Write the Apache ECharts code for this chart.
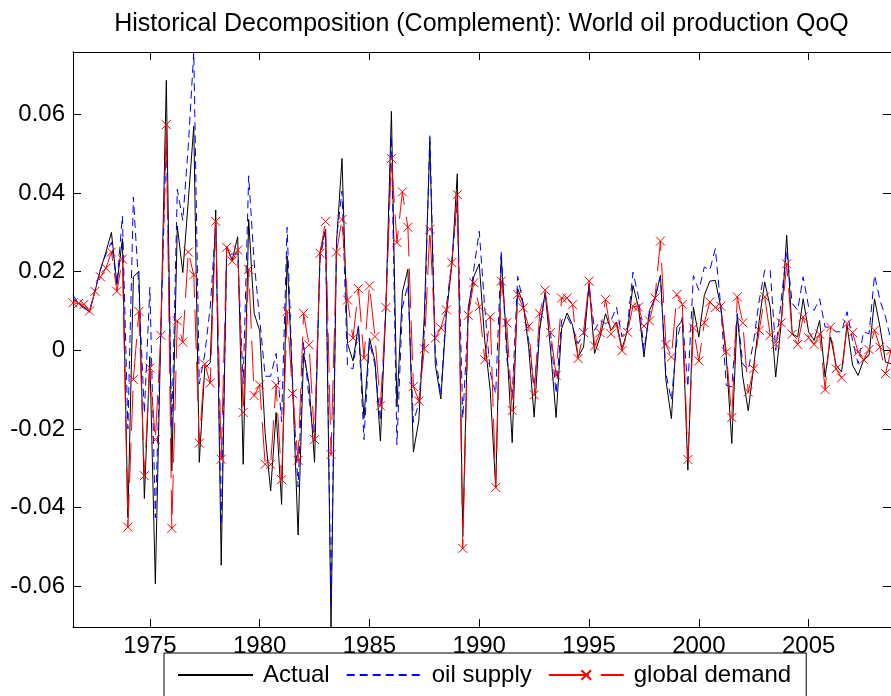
<!DOCTYPE html>
<html>
<head>
<meta charset="utf-8">
<title>Historical Decomposition (Complement)</title>
<script src="https://cdn.jsdelivr.net/npm/echarts@6/dist/echarts.min.js"></script>
<style>
    html, body {
        margin: 0;
        padding: 0;
        background: #fff;
    }
    #chart {
        width: 891px;
        height: 696px;
    }
</style>
</head>
<body>
<div id="chart"></div>
<script>
// quarterly data, 1971Q3 .. 2008Q4
var startYear = 1971.5;

var actual = [
    0.0130, 0.0120, 0.0110, 0.0097, 0.0150, 0.0205, 0.0250, 0.0300, 0.0167, 0.0284,
    -0.0426, 0.0187, 0.0201, -0.0377, -0.0016, -0.0594, 0.0050, 0.0687, -0.0307, 0.0316,
    0.0198, 0.0380, 0.0570, -0.0285, -0.0045, -0.0032, 0.0357, -0.0547, 0.0264, 0.0230,
    0.0289, -0.0290, 0.0333, 0.0094, 0.0050, -0.0212, -0.0358, -0.0158, -0.0392, 0.0240,
    -0.0086, -0.0470, -0.0008, -0.0086, -0.0285, 0.0250, 0.0308, -0.0704, 0.0274, 0.0488,
    0.0017, -0.0027, 0.0062, -0.0173, 0.0031, -0.0027, -0.0231, 0.0114, 0.0608, -0.0144,
    0.0148, 0.0206, -0.0259, -0.0178, 0.0089, 0.0530, -0.0037, -0.0124, 0.0089, 0.0216,
    0.0449, -0.0474, 0.0109, 0.0187, 0.0220, 0.0025, -0.0102, -0.0350, 0.0237, 0.0017,
    -0.0235, 0.0157, 0.0119, 0.0008, -0.0170, 0.0051, 0.0148, 0.0000, -0.0171, 0.0055,
    0.0095, 0.0064, -0.0017, 0.0008, 0.0170, -0.0008, 0.0034, 0.0093, 0.0051, 0.0072,
    0.0004, 0.0050, 0.0165, 0.0110, -0.0017, 0.0102, 0.0130, 0.0191, -0.0076, -0.0174,
    0.0059, 0.0076, -0.0305, 0.0110, 0.0034, 0.0140, 0.0176, 0.0178, 0.0110, -0.0017,
    -0.0237, 0.0093, -0.0068, -0.0154, -0.0040, 0.0076, 0.0174, 0.0110, -0.0068, 0.0068,
    0.0293, 0.0042, 0.0034, 0.0131, 0.0047, 0.0025, 0.0076, -0.0068, 0.0034, -0.0038,
    -0.0055, 0.0064, -0.0038, -0.0064, -0.0025, -0.0013, 0.0131, 0.0059, -0.0030, -0.0034
];

var oilSupply = [
    0.0140, 0.0120, 0.0107, 0.0099, 0.0153, 0.0206, 0.0245, 0.0275, 0.0167, 0.0342,
    -0.0200, 0.0390, 0.0155, -0.0160, 0.0160, -0.0426, 0.0050, 0.0537, -0.0200, 0.0410,
    0.0330, 0.0520, 0.0759, -0.0086, -0.0010, 0.0110, 0.0323, -0.0445, 0.0245, 0.0245,
    0.0245, -0.0085, 0.0444, 0.0224, 0.0080, -0.0066, -0.0066, -0.0008, -0.0182, 0.0313,
    -0.0086, -0.0348, 0.0021, -0.0124, -0.0231, 0.0235, 0.0303, -0.0650, 0.0285, 0.0405,
    -0.0042, -0.0047, 0.0060, -0.0227, 0.0021, -0.0037, -0.0180, 0.0109, 0.0546, -0.0240,
    0.0109, 0.0167, -0.0183, -0.0134, 0.0050, 0.0551, -0.0008, -0.0115, 0.0109, 0.0225,
    0.0380, -0.0173, 0.0089, 0.0206, 0.0303, 0.0109, -0.0056, -0.0110, 0.0254, -0.0017,
    -0.0119, 0.0188, 0.0119, 0.0025, -0.0093, 0.0059, 0.0144, 0.0042, -0.0110, 0.0076,
    0.0085, 0.0059, 0.0017, 0.0042, 0.0161, 0.0051, 0.0076, 0.0068, 0.0076, 0.0110,
    0.0034, 0.0059, 0.0199, 0.0136, 0.0000, 0.0093, 0.0136, 0.0187, -0.0059, -0.0127,
    0.0025, 0.0085, -0.0093, 0.0190, 0.0153, 0.0212, 0.0204, 0.0259, 0.0110, -0.0089,
    -0.0093, 0.0093, -0.0034, -0.0051, 0.0025, 0.0127, 0.0204, 0.0204, 0.0000, 0.0127,
    0.0254, 0.0119, 0.0102, 0.0187, 0.0110, 0.0102, 0.0131, 0.0059, 0.0059, 0.0047,
    0.0047, 0.0098, 0.0025, -0.0034, 0.0047, 0.0042, 0.0191, 0.0127, 0.0085, 0.0025
];

var globalDemand = [
    0.0121, 0.0119, 0.0117, 0.0100, 0.0150, 0.0187, 0.0209, 0.0250, 0.0150, 0.0232,
    -0.0450, -0.0074, 0.0099, -0.0319, -0.0045, -0.0227, 0.0038, 0.0574, -0.0453, 0.0075,
    0.0021, 0.0250, 0.0192, -0.0236, -0.0035, -0.0083, 0.0328, -0.0277, 0.0262, 0.0227,
    0.0255, -0.0158, 0.0206, -0.0115, -0.0088, -0.0290, -0.0290, -0.0088, -0.0329, 0.0099,
    -0.0110, -0.0280, 0.0094, 0.0014, -0.0227, 0.0247, 0.0328, -0.0265, 0.0250, 0.0333,
    0.0128, 0.0031, 0.0157, -0.0019, 0.0164, 0.0035, -0.0141, 0.0109, 0.0488, 0.0274,
    0.0403, 0.0313, -0.0092, -0.0129, 0.0004, 0.0308, 0.0031, 0.0057, 0.0103, 0.0223,
    0.0396, -0.0504, 0.0089, 0.0172, 0.0111, -0.0024, 0.0085, -0.0349, 0.0176, 0.0070,
    -0.0153, 0.0142, 0.0108, 0.0061, -0.0113, 0.0093, 0.0153, 0.0045, -0.0064, 0.0133,
    0.0133, 0.0116, -0.0021, 0.0045, 0.0176, 0.0011, 0.0045, 0.0129, 0.0042, 0.0064,
    -0.0001, 0.0046, 0.0112, 0.0110, 0.0062, 0.0075, 0.0133, 0.0278, 0.0015, -0.0017,
    0.0142, 0.0117, -0.0278, 0.0057, -0.0027, 0.0070, 0.0123, 0.0109, 0.0112, -0.0004,
    -0.0171, 0.0136, 0.0070, -0.0106, -0.0047, 0.0051, 0.0136, 0.0038, 0.0015, 0.0070,
    0.0220, 0.0041, 0.0015, 0.0085, 0.0032, 0.0015, 0.0041, -0.0100, 0.0059, -0.0047,
    -0.0070, 0.0068, 0.0045, -0.0004, -0.0024, 0.0002, 0.0051, 0.0008, -0.0059, 0.0000
];

var xTicks = [1975, 1980, 1985, 1990, 1995, 2000, 2005];
var yTicks = [-0.06, -0.04, -0.02, 0, 0.02, 0.04, 0.06];

var FONT = '"Liberation Sans", Arial, Helvetica, sans-serif';

// quarter dates (x values)
var dates = actual.map(function (v, i) { return startYear + i / 4; });

function pairs(values) {
    return values.map(function (v, i) { return [dates[i], v]; });
}

// axis tight, like matlab
var allValues = actual.concat(oilSupply, globalDemand);
var xMin = dates[0];
var xMax = dates[dates.length - 1];
var yMin = Math.min.apply(null, allValues);
var yMax = Math.max.apply(null, allValues);

function yLabel(v) {
    if (Math.abs(v) < 1e-9) return '0';
    return v.toFixed(2);
}

var black = { color: '#000', width: 1 };
var noSymbol = { color: 'rgba(0,0,0,0)', borderWidth: 0 };

var option = {
    animation: false,
    backgroundColor: '#fff',
    title: {
        text: 'Historical Decomposition (Complement): World oil production QoQ',
        left: 481.5,
        textAlign: 'center',
        top: 12,
        padding: 0,
        textStyle: {
            fontFamily: FONT,
            fontSize: 25,
            fontWeight: 'normal',
            color: '#000'
        }
    },
    grid: {
        left: 73,
        right: 0,
        top: 52,
        bottom: 69,
        show: false
    },
    legend: {
        left: 164,
        top: 653,
        data: [
            { name: 'Actual', itemStyle: noSymbol },
            { name: 'oil supply', itemStyle: noSymbol },
            { name: 'global demand' }
        ],
        itemWidth: 75,
        itemHeight: 12,
        itemGap: 16,
        padding: [10, 15, 14, 13],
        borderColor: '#000',
        borderWidth: 1,
        backgroundColor: '#fff',
        textStyle: {
            fontFamily: FONT,
            fontSize: 24,
            color: '#000',
            padding: [0, 0, 0, 5]
        }
    },
    xAxis: [
        {
            type: 'value',
            position: 'bottom',
            min: xMin,
            max: xMax,
            axisLine: { show: true, onZero: false, lineStyle: black },
            axisTick: { show: true, inside: true, length: 8, customValues: xTicks, lineStyle: black },
            axisLabel: {
                customValues: xTicks,
                formatter: function (v) { return String(v); },
                fontFamily: FONT,
                fontSize: 24,
                color: '#000',
                margin: 7
            },
            splitLine: { show: false }
        },
        {
            type: 'value',
            position: 'top',
            min: xMin,
            max: xMax,
            axisLine: { show: true, onZero: false, lineStyle: black },
            axisTick: { show: true, inside: true, length: 8, customValues: xTicks, lineStyle: black },
            axisLabel: { show: false },
            splitLine: { show: false }
        }
    ],
    yAxis: [
        {
            type: 'value',
            position: 'left',
            min: yMin,
            max: yMax,
            axisLine: { show: true, onZero: false, lineStyle: black },
            axisTick: { show: true, inside: true, length: 8, customValues: yTicks, lineStyle: black },
            axisLabel: {
                customValues: yTicks,
                formatter: yLabel,
                fontFamily: FONT,
                fontSize: 24,
                color: '#000',
                margin: 8
            },
            splitLine: { show: false }
        },
        {
            type: 'value',
            position: 'right',
            min: yMin,
            max: yMax,
            axisLine: { show: false, onZero: false },
            axisTick: { show: true, inside: true, length: 8, customValues: yTicks, lineStyle: black },
            axisLabel: { show: false },
            splitLine: { show: false }
        }
    ],
    series: [
        {
            name: 'Actual',
            type: 'line',
            data: pairs(actual),
            showSymbol: false,
            symbol: 'none',
            lineStyle: { color: '#000', width: 1 },
            itemStyle: { color: '#000' }
        },
        {
            name: 'oil supply',
            type: 'line',
            data: pairs(oilSupply),
            showSymbol: false,
            symbol: 'none',
            lineStyle: { color: '#0000ff', width: 1, type: [8, 5] },
            itemStyle: { color: '#0000ff' }
        },
        {
            name: 'global demand',
            type: 'line',
            data: pairs(globalDemand),
            symbol: 'path://M0,0L10,10M10,0L0,10',
            symbolSize: 9,
            lineStyle: { color: '#ff0000', width: 1, type: [40, 12] },
            itemStyle: { color: 'none', borderColor: '#ff0000', borderWidth: 1 }
        }
    ]
};

var myChart = echarts.init(document.getElementById('chart'), null, { renderer: 'canvas' });
myChart.setOption(option);
</script>
</body>
</html>
